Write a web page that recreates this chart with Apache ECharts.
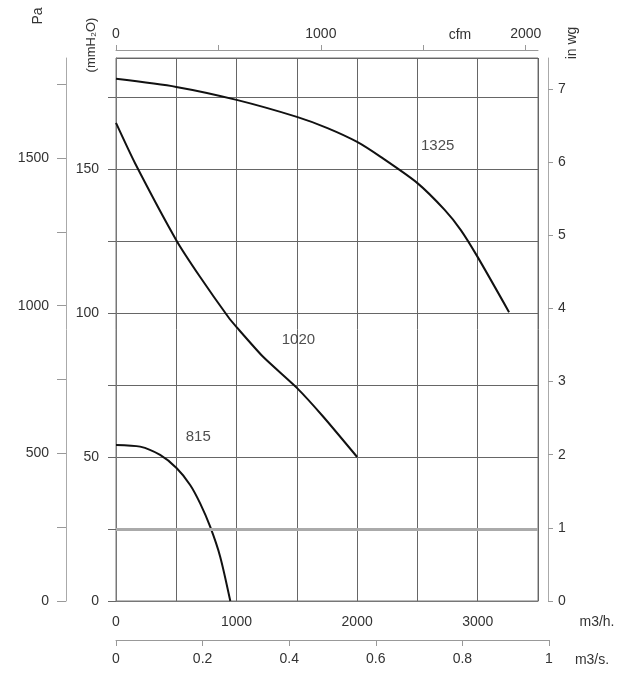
<!DOCTYPE html>
<html>
<head>
<meta charset="utf-8">
<script src="https://cdn.jsdelivr.net/npm/echarts@6/dist/echarts.min.js"></script>
<style>
html,body{margin:0;padding:0;background:#fff;}
#chart{width:621px;height:673px;}
</style>
</head>
<body>
<div id="chart"></div>
<script type="text/javascript">
// fan curves, flow in m3/h, pressure in mmH2O
var curve1325Flow  = [0, 500, 1000, 1500, 1754, 2000, 2195, 2500, 2726, 2860, 3000, 3260];
var curve1325Press = [181.3, 178.5, 174, 168.1, 164.2, 159.4, 154.2, 145.1, 135.8, 128.8, 119.4, 100.3];
var curve1020Flow  = [0, 158, 500, 698, 931, 1000, 1222, 1500, 1721, 2000];
var curve1020Press = [166, 152, 125.3, 112.5, 98.6, 95.1, 84.7, 74, 63.9, 50];
var curve815Flow   = [0, 200, 366, 504, 615, 698, 781, 864, 948];
var curve815Press  = [54.2, 53.6, 50.7, 46.1, 40.3, 33.9, 25.8, 15.4, 0];

// curve names and where they are written
var curveNames = ['1325', '1020', '815'];
var nameFlow   = [2668, 1513, 682];
var namePress  = [158, 90.6, 57];

var FONT = 'Liberation Sans, Arial, sans-serif';
var TXT = '#333';

function pairs(xs, ys){
	var out = [];
	for(var i=0;i<xs.length;i++) out.push([xs[i], ys[i]]);
	return out;
}
function curve(name, xs, ys){
	return {
		name:name, type:'line', xAxisIndex:0, yAxisIndex:0,
		data:pairs(xs, ys), smooth:0.25, showSymbol:false, silent:true,
		lineStyle:{color:'#111', width:2}
	};
}
var nameData = [];
for(var i=0;i<curveNames.length;i++) nameData.push([nameFlow[i], namePress[i], curveNames[i]]);

var txt = {fontFamily:FONT, fontSize:14, color:TXT};

var option = {
	backgroundColor:'#fff',
	animation:false,
	grid:[
		{left:116, top:58, width:422, height:543, show:true, borderColor:'#777', borderWidth:1},
		{left:116, top:58, width:433, height:543}
	],
	xAxis:[
		{ // m3/h
			gridIndex:0, type:'value', position:'bottom', min:0, max:3500, interval:500,
			axisLine:{show:true, onZero:false, lineStyle:{color:'#777'}},
			axisTick:{show:false},
			splitLine:{show:true, lineStyle:{color:'#666', width:1}},
			axisLabel:Object.assign({margin:14, formatter:function(v){return v%1000===0 ? v : '';}}, txt)
		},
		{ // m3/s
			gridIndex:1, type:'value', position:'bottom', offset:39, min:0, max:1, interval:0.2,
			axisLine:{show:true, onZero:false, lineStyle:{color:'#999'}},
			axisTick:{show:true, length:6, lineStyle:{color:'#999'}},
			splitLine:{show:false},
			axisLabel:Object.assign({margin:12}, txt)
		},
		{ // cfm
			gridIndex:0, type:'value', position:'top', offset:8, min:0, max:3500/1.699, interval:500,
			axisLine:{show:true, onZero:false, lineStyle:{color:'#999'}},
			axisTick:{show:true, length:5, lineStyle:{color:'#999'}},
			splitLine:{show:false},
			axisLabel:Object.assign({margin:9, showMaxLabel:false, formatter:function(v){return v%1000===0 ? v : '';}}, txt)
		}
	],
	yAxis:[
		{ // mmH2O
			gridIndex:0, type:'value', position:'left', min:0, max:543/2.88, interval:25,
			axisLine:{show:true, onZero:false, lineStyle:{color:'#777'}},
			axisTick:{show:true, length:8, lineStyle:{color:'#666'}},
			splitLine:{show:true, lineStyle:{color:'#666', width:1}},
			axisLabel:Object.assign({margin:17, showMaxLabel:false, formatter:function(v){return v%50===0 ? v : '';}}, txt)
		},
		{ // Pa
			gridIndex:0, type:'value', position:'left', offset:50, min:0, max:543/0.2953, interval:250,
			axisLine:{show:true, onZero:false, lineStyle:{color:'#aaa'}},
			axisTick:{show:true, length:9, lineStyle:{color:'#999'}},
			splitLine:{show:false},
			axisLabel:Object.assign({margin:17, showMaxLabel:false, formatter:function(v){return v%500===0 ? v : '';}}, txt)
		},
		{ // in wg
			gridIndex:0, type:'value', position:'right', offset:10, min:0, max:543/2.88/25.4, interval:1,
			axisLine:{show:true, onZero:false, lineStyle:{color:'#aaa'}},
			axisTick:{show:true, length:5, lineStyle:{color:'#999'}},
			splitLine:{show:false},
			axisLabel:Object.assign({margin:10, showMaxLabel:false, formatter:function(v){return Number.isInteger(v) ? v : '';}}, txt)
		},
		{ // placeholder for the m3/s grid
			gridIndex:1, type:'value', show:false, min:0, max:1
		}
	],
	series:[
		curve('1325', curve1325Flow, curve1325Press),
		Object.assign(curve('1020', curve1020Flow, curve1020Press), {smooth:0.2}),
		Object.assign(curve('815', curve815Flow, curve815Press), {
			markLine:{
				silent:true, symbol:'none', label:{show:false},
				lineStyle:{color:'#aaa', width:3, type:'solid'},
				data:[{yAxis:25}]
			}
		}),
		{
			type:'scatter', xAxisIndex:0, yAxisIndex:0, symbolSize:0, silent:true,
			data:nameData,
			label:{show:true, position:'inside', formatter:function(p){return p.value[2];},
				fontFamily:FONT, fontSize:15, color:'#222', textBorderWidth:0}
		}
	],
	graphic:[
		{type:'text', x:38, y:16, rotation:Math.PI/2, style:{text:'Pa', font:'14px '+FONT, fill:TXT, textAlign:'center', textVerticalAlign:'middle'}},
		{type:'text', x:91, y:45, rotation:Math.PI/2, style:{text:'(mmH₂O)', font:'13px '+FONT, fill:TXT, textAlign:'center', textVerticalAlign:'middle'}},
		{type:'text', x:572, y:43, rotation:Math.PI/2, style:{text:'in wg', font:'14px '+FONT, fill:TXT, textAlign:'center', textVerticalAlign:'middle'}},
		{type:'text', x:460, y:35, style:{text:'cfm', font:'14px '+FONT, fill:TXT, textAlign:'center', textVerticalAlign:'middle'}},
		{type:'text', x:597, y:622, style:{text:'m3/h.', font:'14px '+FONT, fill:TXT, textAlign:'center', textVerticalAlign:'middle'}},
		{type:'text', x:592, y:660, style:{text:'m3/s.', font:'14px '+FONT, fill:TXT, textAlign:'center', textVerticalAlign:'middle'}}
	]
};
echarts.init(document.getElementById('chart')).setOption(option);
</script>
</body>
</html>
